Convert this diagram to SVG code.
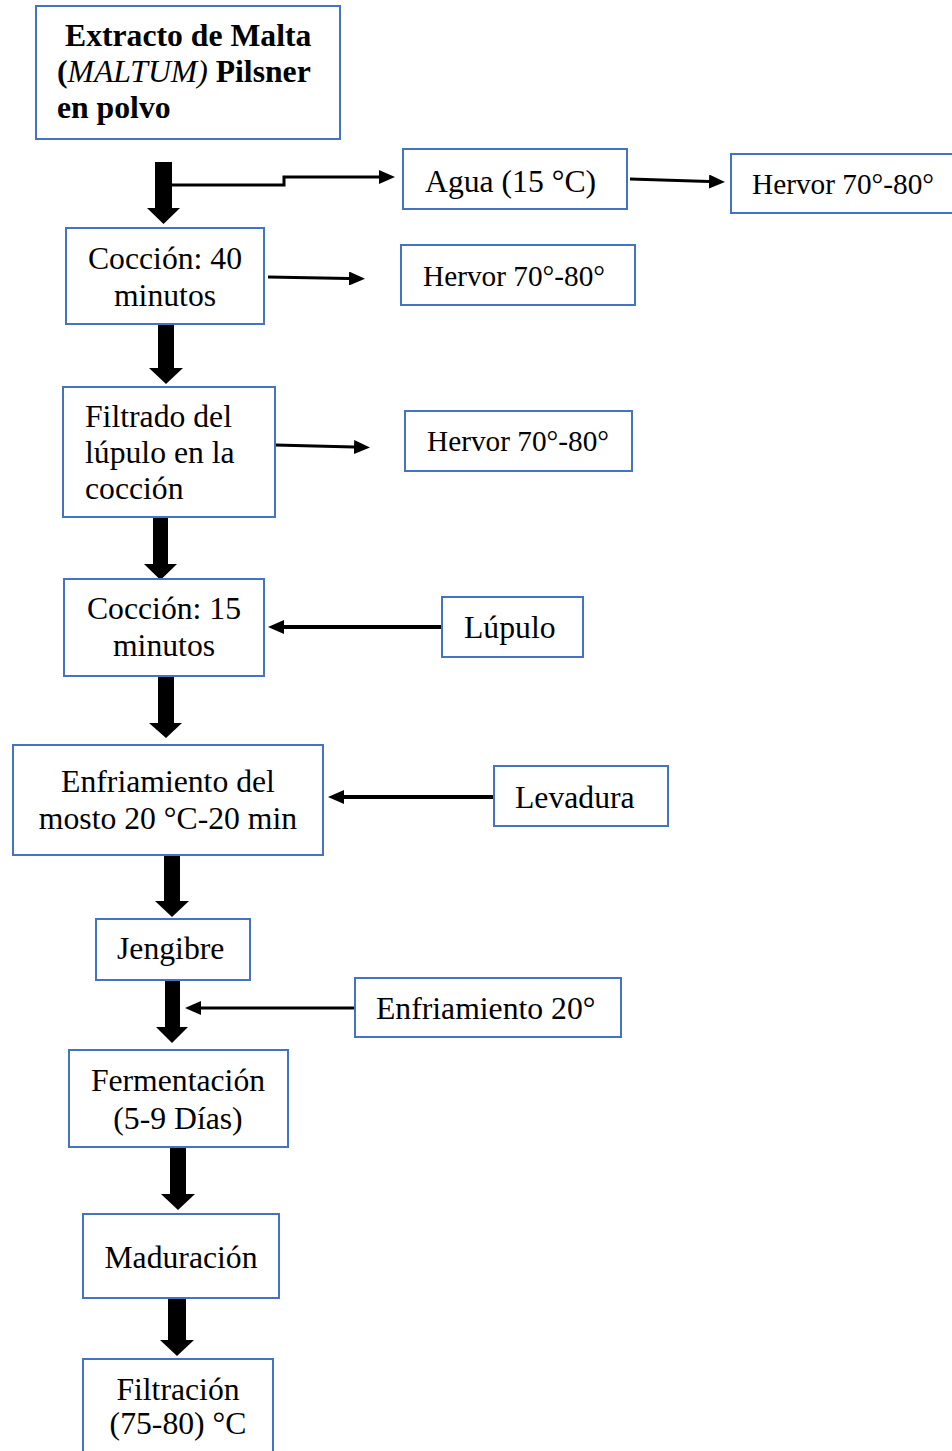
<svg xmlns="http://www.w3.org/2000/svg" width="952" height="1451" viewBox="0 0 952 1451">
<style>
.box{fill:#fff;stroke:#4472C4;stroke-width:2}
.t{font-family:"Liberation Serif","Times New Roman",serif;font-size:31.7px;fill:#000}
.h{font-size:29.3px}
.b{font-weight:bold}
.i{font-style:italic;font-weight:normal}
.c{text-anchor:middle}
.thick{fill:#000}
.thin{fill:none;stroke:#000;stroke-width:3}
.thin4{fill:none;stroke:#000;stroke-width:4}
</style>
<defs>
<marker id="ah" markerUnits="userSpaceOnUse" markerWidth="16" markerHeight="14" refX="0" refY="7" orient="auto">
<path d="M0,0 L16,7 L0,14 z" fill="#000"/>
</marker>
</defs>
<rect width="952" height="1451" fill="#fff"/>

<g id="connectors">
<polygon class="thick" points="155,162 172,162 172,208 180,208 163.5,224 147,208 155,208"/>
<polygon class="thick" points="158,322 174,322 174,368 183,368 166,384 149,368 158,368"/>
<polygon class="thick" points="153,517 168,517 168,564 177,564 160.5,580 144,564 153,564"/>
<polygon class="thick" points="158,676 174,676 174,723 182,723 166,738 149,723 158,723"/>
<polygon class="thick" points="164,856 180,856 180,901 189,901 172,917 155,901 164,901"/>
<polygon class="thick" points="165,980 180,980 180,1027 188,1027 172,1043 156,1027 165,1027"/>
<polygon class="thick" points="170,1148 186,1148 186,1194 195,1194 178,1210 161,1194 170,1194"/>
<polygon class="thick" points="168,1298 186,1298 186,1340 194,1340 177,1356 160,1340 168,1340"/>
<path class="thin" d="M172,185 H284 V177 H379" marker-end="url(#ah)"/>
<path class="thin" d="M630,179 L709,181.5" marker-end="url(#ah)"/>
<path class="thin" d="M268,277 L349,278.5" marker-end="url(#ah)"/>
<path class="thin" d="M275,445 L354,447" marker-end="url(#ah)"/>
<path class="thin4" d="M443,627 H284" marker-end="url(#ah)"/>
<path class="thin4" d="M494,797 H344" marker-end="url(#ah)"/>
<path class="thin" d="M357,1008 H201" marker-end="url(#ah)"/>
</g>

<g id="n1">
<rect class="box" x="36" y="6" width="304" height="133"/>
<text class="t b" x="65" y="46">Extracto de Malta</text>
<text class="t b" x="57" y="82">(<tspan class="i">MALTUM)</tspan> Pilsner</text>
<text class="t b" x="57" y="118">en polvo</text>
</g>
<g id="n2">
<rect class="box" x="403" y="149" width="224" height="60"/>
<text class="t" x="425" y="192">Agua (15 °C)</text>
</g>
<g id="n3">
<rect class="box" x="731" y="154" width="240" height="59"/>
<text class="t h" x="752" y="194">Hervor 70°-80°</text>
</g>
<g id="n4">
<rect class="box" x="66" y="228" width="198" height="96"/>
<text class="t c" x="165" y="269">Cocción: 40</text>
<text class="t c" x="165" y="306">minutos</text>
</g>
<g id="n5">
<rect class="box" x="401" y="245" width="234" height="60"/>
<text class="t h" x="423" y="286">Hervor 70°-80°</text>
</g>
<g id="n6">
<rect class="box" x="63" y="387" width="212" height="130"/>
<text class="t" x="85" y="427">Filtrado del</text>
<text class="t" x="85" y="463">lúpulo en la</text>
<text class="t" x="85" y="499">cocción</text>
</g>
<g id="n7">
<rect class="box" x="405" y="411" width="227" height="60"/>
<text class="t h" x="427" y="451">Hervor 70°-80°</text>
</g>
<g id="n8">
<rect class="box" x="64" y="579" width="200" height="97"/>
<text class="t c" x="164" y="619">Cocción: 15</text>
<text class="t c" x="164" y="656">minutos</text>
</g>
<g id="n9">
<rect class="box" x="442" y="597" width="141" height="60"/>
<text class="t" x="464" y="638">Lúpulo</text>
</g>
<g id="n10">
<rect class="box" x="13" y="745" width="310" height="110"/>
<text class="t c" x="168" y="792">Enfriamiento del</text>
<text class="t c" x="168" y="829">mosto 20 °C-20 min</text>
</g>
<g id="n11">
<rect class="box" x="494" y="766" width="174" height="60"/>
<text class="t" x="515" y="808">Levadura</text>
</g>
<g id="n12">
<rect class="box" x="96" y="919" width="154" height="61"/>
<text class="t" x="117" y="959">Jengibre</text>
</g>
<g id="n13">
<rect class="box" x="355" y="978" width="266" height="59"/>
<text class="t" x="376" y="1019">Enfriamiento 20°</text>
</g>
<g id="n14">
<rect class="box" x="69" y="1050" width="219" height="97"/>
<text class="t c" x="178" y="1091">Fermentación</text>
<text class="t c" x="178" y="1129">(5-9 Días)</text>
</g>
<g id="n15">
<rect class="box" x="83" y="1214" width="196" height="84"/>
<text class="t c" x="181" y="1268">Maduración</text>
</g>
<g id="n16">
<rect class="box" x="83" y="1359" width="190" height="100"/>
<text class="t c" x="178" y="1400">Filtración</text>
<text class="t c" x="178" y="1434">(75-80) °C</text>
</g>
</svg>
